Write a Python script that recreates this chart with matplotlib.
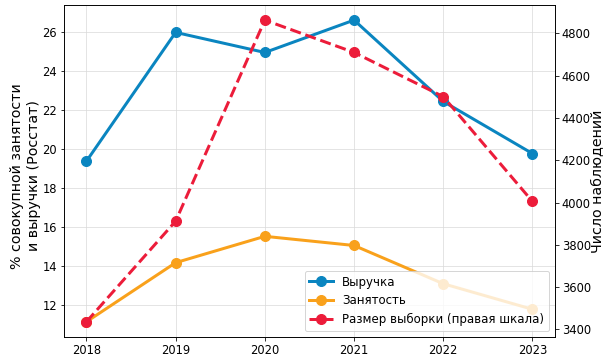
import matplotlib
matplotlib.use("Agg")
import matplotlib.pyplot as plt

# данные по годам
years = [2018, 2019, 2020, 2021, 2022, 2023]
revenue_share = [19.37, 25.97, 24.94, 26.60, 22.43, 19.76]
employment_share = [11.14, 14.17, 15.52, 15.05, 13.09, 11.78]
sample_size = [3436, 3912, 4863, 4710, 4501, 4005]

# при dpi 72 размеры в пунктах совпадают с пикселями
fig, ax1 = plt.subplots(figsize=(605 / 72, 358 / 72), dpi=72)
fig.subplots_adjust(left=0.106, right=0.917, top=0.986, bottom=0.059)

ax1.plot(years, revenue_share, color="#0a85c0", marker="o", markersize=10,
         linewidth=3, label="Выручка")
ax1.plot(years, employment_share, color="#f9a11b", marker="o", markersize=10,
         linewidth=3, label="Занятость")
ax1.set_ylabel("% совокупной занятости\nи выручки (Росстат)", fontsize=14.2)
ax1.yaxis.set_label_coords(-0.048, 0.485)
ax1.grid(True, color="#d9d9d9", linewidth=1, alpha=0.7)
ax1.tick_params(labelsize=11.5)
ax1.set_xticks(years)

# правая шкала - размер выборки
ax2 = ax1.twinx()
ax2.plot(years, sample_size, color="#ec1c3a", marker="o", markersize=10,
         linewidth=3, linestyle="--", label="Размер выборки (правая шкала)")
ax2.set_ylabel("Число наблюдений", fontsize=14.2)
ax2.yaxis.set_label_coords(1.074, 0.47)
ax2.tick_params(labelsize=11.5)

h1, l1 = ax1.get_legend_handles_labels()
h2, l2 = ax2.get_legend_handles_labels()
ax2.legend(h1 + h2, l1 + l2, loc="lower right", fontsize=11.7)

plt.savefig("out.png", dpi=72)
plt.close()
